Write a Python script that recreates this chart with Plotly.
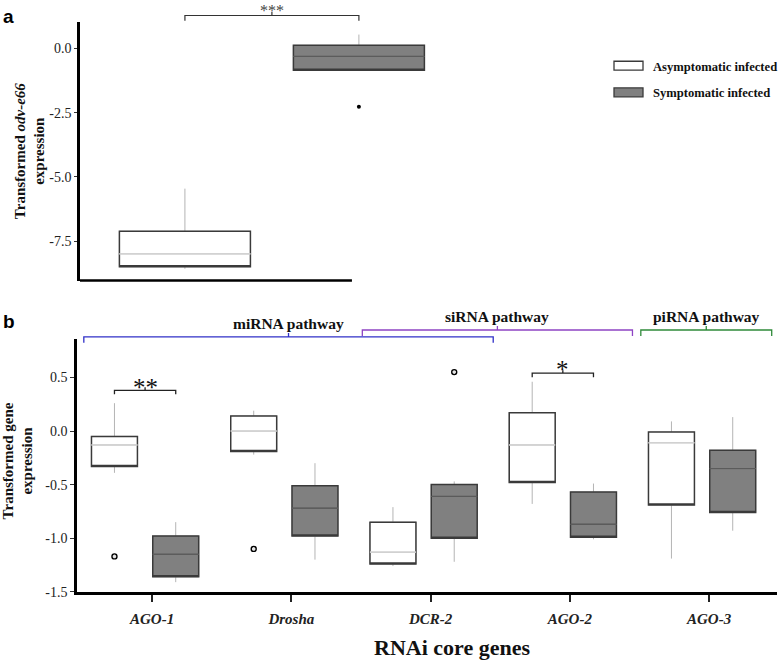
import plotly.graph_objects as go

# ---- panel a: odv-e66 expression (box statistics)
odv_groups = ["Asymptomatic infected", "Symptomatic infected"]
odv_lower = [-8.58, -0.88]
odv_q1 = [-8.50, -0.85]
odv_median = [-8.00, -0.31]
odv_q3 = [-7.12, 0.12]
odv_upper = [-5.46, 0.54]
odv_outliers = [[], [-2.27]]

# ---- panel b: RNAi core genes
genes = ["AGO-1", "Drosha", "DCR-2", "AGO-2", "AGO-3"]
asym_lower = [-0.39, -0.22, -1.26, -0.68, -1.19]
asym_q1 = [-0.33, -0.19, -1.24, -0.48, -0.69]
asym_median = [-0.13, 0.00, -1.13, -0.13, -0.11]
asym_q3 = [-0.05, 0.14, -0.85, 0.17, -0.01]
asym_upper = [0.26, 0.19, -0.71, 0.46, 0.09]
asym_outliers = [[-1.17], [-1.10], [], [], []]

sym_lower = [-1.41, -1.20, -1.22, -1.01, -0.93]
sym_q1 = [-1.36, -0.98, -1.00, -0.99, -0.76]
sym_median = [-1.15, -0.72, -0.61, -0.87, -0.35]
sym_q3 = [-0.98, -0.51, -0.50, -0.57, -0.18]
sym_upper = [-0.85, -0.30, -0.47, -0.49, 0.13]
sym_outliers = [[], [], [0.55], [], []]

sig_genes = ["AGO-1", "AGO-2"]
sig_labels = ["**", "*"]
sig_heights = [0.38, 0.54]

pathways = ["miRNA pathway", "siRNA pathway", "piRNA pathway"]
pathway_first = ["AGO-1", "DCR-2", "AGO-3"]
pathway_last = ["DCR-2", "AGO-2", "AGO-3"]
pathway_colors = ["#3030c8", "#8e44c4", "#2f8a3a"]

# ---- styling
W, H = 778, 665
SERIF = "Liberation Serif"
OUTLINE = "#3a3a3a"
WHISKER = "#b4b4b4"
FILL = {"asym": "white", "sym": "#808080"}
MEDIAN = {"asym": "#cfcfcf", "sym": "#5c5c5c"}
OFFSET = {"asym": -0.27, "sym": 0.17}
BOX_W_B = 0.33
BOX_W_A = 0.753


def px(x):
  return x / W


def py(y):
  return 1 - y / H


def add_box(fig, x, lo, q1, med, q3, hi, width, kind, xa, ya):
  common = dict(x=[x], width=width, whiskerwidth=0, boxpoints=False,
                hoverinfo="skip", showlegend=False, xaxis=xa, yaxis=ya)
  # whiskers (light grey) sit underneath the filled box
  fig.add_trace(go.Box(q1=[q1], median=[med], q3=[q3], lowerfence=[lo], upperfence=[hi],
                       fillcolor="rgba(0,0,0,0)", line=dict(color=WHISKER, width=1), **common))
  # filled box with dark outline
  fig.add_trace(go.Box(q1=[q1], median=[q1], q3=[q3], lowerfence=[q1], upperfence=[q3],
                       fillcolor=FILL[kind], line=dict(color=OUTLINE, width=1.5), **common))
  # median line
  fig.add_trace(go.Box(q1=[med], median=[med], q3=[med], lowerfence=[med], upperfence=[med],
                       fillcolor="rgba(0,0,0,0)", line=dict(color=MEDIAN[kind], width=1), **common))


fig = go.Figure()

# panel a boxes
kinds = ["asym", "sym"]
for i, kind in enumerate(kinds):
  add_box(fig, i, odv_lower[i], odv_q1[i], odv_median[i], odv_q3[i], odv_upper[i],
          BOX_W_A, kind, "x", "y")
  if odv_outliers[i]:
    fig.add_trace(go.Scatter(x=[i] * len(odv_outliers[i]), y=odv_outliers[i], mode="markers",
                             marker=dict(color="black", size=4), showlegend=False,
                             hoverinfo="skip", xaxis="x", yaxis="y"))

# panel b boxes
stats = {
  "asym": (asym_lower, asym_q1, asym_median, asym_q3, asym_upper, asym_outliers),
  "sym": (sym_lower, sym_q1, sym_median, sym_q3, sym_upper, sym_outliers),
}
for kind in kinds:
  lo, q1, med, q3, hi, outl = stats[kind]
  for i, g in enumerate(genes):
    xpos = i + OFFSET[kind]
    add_box(fig, xpos, lo[i], q1[i], med[i], q3[i], hi[i], BOX_W_B, kind, "x2", "y2")
    if outl[i]:
      fig.add_trace(go.Scatter(x=[xpos] * len(outl[i]), y=outl[i], mode="markers",
                               marker=dict(color="#e6e6e6", size=5, line=dict(color="black", width=1.4)),
                               showlegend=False, hoverinfo="skip", xaxis="x2", yaxis="y2"))

shapes = []
annotations = []

# bottom axis line of panel a (shorter than the data area, as in the original)
shapes.append(dict(type="line", xref="x", yref="paper", x0=-0.62, x1=0.96, y0=py(284), y1=py(284),
                   line=dict(color="black", width=2.5)))

# panel a significance bracket
ya_h, ya_end, ya_tick = py(15.7), py(21), py(12)
shapes.append(dict(type="path", xref="x", yref="paper",
                   path=f"M 0,{ya_end} L 0,{ya_h} L 1,{ya_h} L 1,{ya_end} M 0.5,{ya_h} L 0.5,{ya_tick}",
                   line=dict(color="#333", width=1.2)))
annotations.append(dict(text="***", x=0.5, xref="x", y=py(10.5), yref="paper",
                        font=dict(family=SERIF, size=16, color="#444")))

# panel b significance brackets
for g, lab, h in zip(sig_genes, sig_labels, sig_heights):
  i = genes.index(g)
  x1, x2 = i + OFFSET["asym"], i + OFFSET["sym"]
  xc = (x1 + x2) / 2
  shapes.append(dict(type="path", xref="x2", yref="y2",
                     path=f"M {x1},{h - 0.037} L {x1},{h} L {x2},{h} L {x2},{h - 0.037} M {xc},{h} L {xc},{h + 0.028}",
                     line=dict(color="#222", width=1.3)))
  annotations.append(dict(text=lab, x=xc, xref="x2", y=h + 0.03, yref="y2",
                          font=dict(family=SERIF, size=25, color="#111")))

# pathway brackets above panel b
levels = {"miRNA pathway": (341, 327), "siRNA pathway": (334, 320), "piRNA pathway": (334, 320)}
for name, first, last, col in zip(pathways, pathway_first, pathway_last, pathway_colors):
  x1 = genes.index(first) - 0.49
  x2 = genes.index(last) + 0.45
  xc = (x1 + x2) / 2
  yl, yt = levels[name]
  yh, ye, yk = py(yl), py(yl + 6), py(yl - 4)
  shapes.append(dict(type="path", xref="x2", yref="paper",
                     path=f"M {x1},{ye} L {x1},{yh} L {x2},{yh} L {x2},{ye} M {xc},{yh} L {xc},{yk}",
                     line=dict(color=col, width=1.3)))
  annotations.append(dict(text=f"<b>{name}</b>", x=xc, xref="x2", y=py(yt), yref="paper",
                          font=dict(family=SERIF, size=15.5, color="#111")))

# legend drawn by hand (wide flat swatches)
for k, (kind, label) in enumerate(zip(kinds, odv_groups)):
  yc = 66.5 + k * 27
  shapes.append(dict(type="rect", xref="paper", yref="paper", x0=px(614), x1=px(643),
                     y0=py(yc + 4.5), y1=py(yc - 4.5), fillcolor=FILL[kind],
                     line=dict(color=OUTLINE, width=1.3)))
  annotations.append(dict(text=f"<b>{label}</b>", x=px(651), y=py(yc + 1), xanchor="left",
                          font=dict(family=SERIF, size=12.6, color="#111")))

# panel letters and axis titles
annotations += [
  dict(text="<b>a</b>", x=px(1), y=py(17), xanchor="left",
       font=dict(family="Liberation Sans", size=19, color="black")),
  dict(text="<b>b</b>", x=px(1), y=py(325), xanchor="left",
       font=dict(family="Liberation Sans", size=19, color="black")),
  dict(text="<b>Transformed <i>odv-e66</i><br>expression</b>", x=px(30), y=py(153), textangle=-90,
       font=dict(family=SERIF, size=15, color="#111")),
  dict(text="<b>Transformed gene<br>expression</b>", x=px(18), y=py(467), textangle=-90,
       font=dict(family=SERIF, size=15, color="#111")),
  dict(text="<b>RNAi core genes</b>", x=px(452), y=py(655),
       font=dict(family=SERIF, size=22, color="#111")),
]
for a in annotations:
  a.setdefault("xref", "paper")
  a.setdefault("yref", "paper")
  a.setdefault("xanchor", "center")
  a.setdefault("yanchor", "middle")
  a.setdefault("showarrow", False)

tickfont = dict(family=SERIF, size=14, color="#222")
fig.update_layout(
  width=W, height=H,
  margin=dict(l=0, r=0, t=0, b=0),
  paper_bgcolor="white", plot_bgcolor="white",
  boxmode="overlay",
  showlegend=False,
  shapes=shapes,
  annotations=annotations,
  xaxis=dict(domain=[px(80), px(428.5)], range=[-0.603, 1.4], visible=False, anchor="y"),
  yaxis=dict(domain=[py(284), py(22)], range=[-9.04, 1.04], anchor="x",
             tickvals=[0, -2.5, -5, -7.5], ticktext=["0.0", "-2.5", "-5.0", "-7.5"],
             showline=True, linecolor="black", linewidth=2.5, ticks="outside", ticklen=3,
             tickcolor="#333", tickfont=tickfont, showgrid=False, zeroline=False),
  xaxis2=dict(domain=[px(77), px(777)], range=[-0.539, 4.488], anchor="y2",
              tickvals=list(range(len(genes))), ticktext=[f"<b><i>{g}</i></b>" for g in genes],
              showline=True, linecolor="black", linewidth=2.5, ticks="outside", ticklen=7,
              tickwidth=1.5, tickcolor="#222", tickfont=dict(family=SERIF, size=15, color="#222"),
              ticklabelstandoff=4, showgrid=False, zeroline=False),
  yaxis2=dict(domain=[py(599), py(343)], range=[-1.5, 0.86], anchor="x2",
              tickvals=[0.5, 0, -0.5, -1, -1.5], ticktext=["0.5", "0.0", "-0.5", "-1.0", "-1.5"],
              showline=True, linecolor="black", linewidth=2.5, ticks="outside", ticklen=4,
              tickcolor="#333", tickfont=tickfont, showgrid=False, zeroline=False),
)

# the page body has a default 8px margin; drop it so the figure fills the window
fig.write_html("out.html", config={"displayModeBar": False},
               post_script="document.body.style.margin = '0';")
